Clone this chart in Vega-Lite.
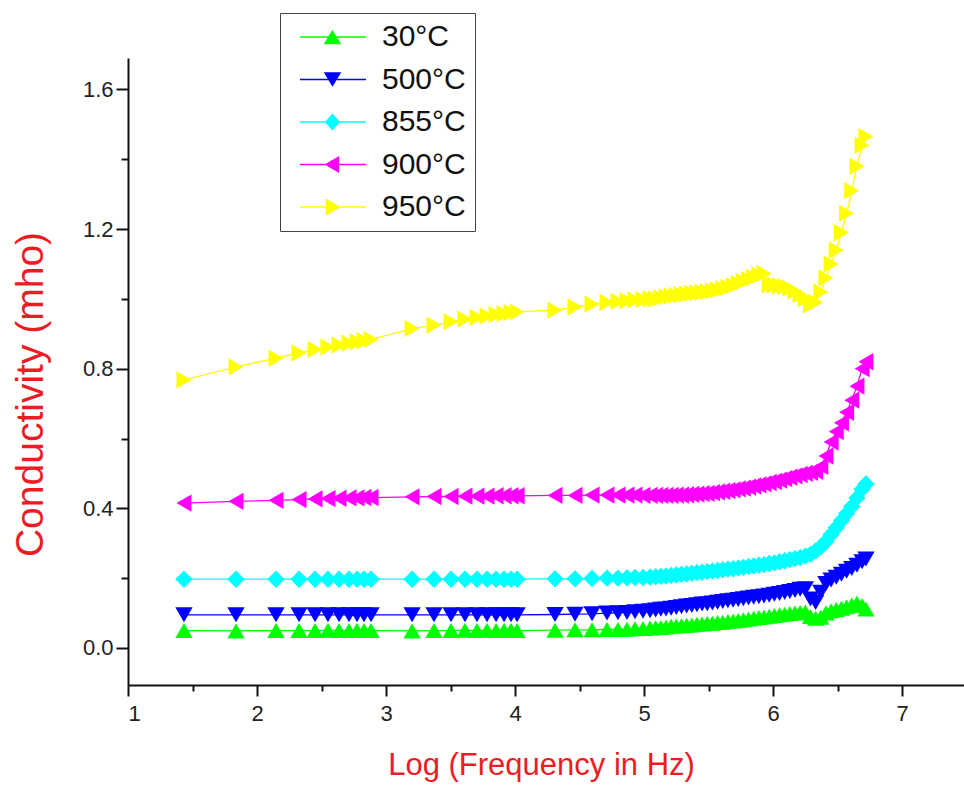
{
  "$schema": "https://vega.github.io/schema/vega-lite/v6.json",
  "width": 836,
  "height": 627,
  "autosize": {"type": "none"},
  "padding": {"left": 128, "top": 58, "right": 0, "bottom": 100},
  "background": "white",
  "config": {"view": {"stroke": null}},
  "data": {"values": [
    {"s":"500°C","x":1.434,"y":0.095},{"s":"500°C","x":1.837,"y":0.095},{"s":"500°C","x":2.147,"y":0.095},{"s":"500°C","x":2.326,"y":0.095},{"s":"500°C","x":2.45,"y":0.095},{"s":"500°C","x":2.55,"y":0.095},{"s":"500°C","x":2.636,"y":0.095},{"s":"500°C","x":2.713,"y":0.095},{"s":"500°C","x":2.775,"y":0.095},{"s":"500°C","x":2.829,"y":0.095},{"s":"500°C","x":2.884,"y":0.095},{"s":"500°C","x":3.202,"y":0.095},{"s":"500°C","x":3.372,"y":0.095},{"s":"500°C","x":3.504,"y":0.095},{"s":"500°C","x":3.612,"y":0.095},{"s":"500°C","x":3.705,"y":0.095},{"s":"500°C","x":3.783,"y":0.095},{"s":"500°C","x":3.853,"y":0.095},{"s":"500°C","x":3.915,"y":0.095},{"s":"500°C","x":3.969,"y":0.095},{"s":"500°C","x":4.016,"y":0.095},{"s":"500°C","x":4.31,"y":0.096},{"s":"500°C","x":4.465,"y":0.097},{"s":"500°C","x":4.597,"y":0.098},{"s":"500°C","x":4.713,"y":0.1},{"s":"500°C","x":4.798,"y":0.101},{"s":"500°C","x":4.868,"y":0.102},{"s":"500°C","x":4.93,"y":0.104},{"s":"500°C","x":4.992,"y":0.105},{"s":"500°C","x":5.047,"y":0.107},
    {"s":"500°C","x":5.09,"y":0.109},{"s":"500°C","x":5.13,"y":0.111},{"s":"500°C","x":5.17,"y":0.112},{"s":"500°C","x":5.21,"y":0.114},{"s":"500°C","x":5.25,"y":0.116},{"s":"500°C","x":5.29,"y":0.118},{"s":"500°C","x":5.33,"y":0.12},{"s":"500°C","x":5.37,"y":0.122},{"s":"500°C","x":5.41,"y":0.124},{"s":"500°C","x":5.45,"y":0.126},{"s":"500°C","x":5.49,"y":0.127},{"s":"500°C","x":5.53,"y":0.129},{"s":"500°C","x":5.57,"y":0.131},{"s":"500°C","x":5.61,"y":0.133},{"s":"500°C","x":5.65,"y":0.135},{"s":"500°C","x":5.69,"y":0.137},{"s":"500°C","x":5.73,"y":0.139},{"s":"500°C","x":5.77,"y":0.141},{"s":"500°C","x":5.81,"y":0.143},{"s":"500°C","x":5.85,"y":0.145},{"s":"500°C","x":5.89,"y":0.147},{"s":"500°C","x":5.93,"y":0.149},{"s":"500°C","x":5.97,"y":0.151},{"s":"500°C","x":6.01,"y":0.154},{"s":"500°C","x":6.05,"y":0.156},{"s":"500°C","x":6.09,"y":0.159},{"s":"500°C","x":6.13,"y":0.162},{"s":"500°C","x":6.17,"y":0.165},{"s":"500°C","x":6.21,"y":0.168},{"s":"500°C","x":6.25,"y":0.17},{"s":"500°C","x":6.29,"y":0.14},{"s":"500°C","x":6.33,"y":0.13},{"s":"500°C","x":6.37,"y":0.16},{"s":"500°C","x":6.41,"y":0.185},{"s":"500°C","x":6.45,"y":0.195},{"s":"500°C","x":6.49,"y":0.203},{"s":"500°C","x":6.53,"y":0.211},{"s":"500°C","x":6.57,"y":0.22},{"s":"500°C","x":6.61,"y":0.228},{"s":"500°C","x":6.65,"y":0.237},{"s":"500°C","x":6.69,"y":0.247},{"s":"500°C","x":6.72,"y":0.255},

    {"s":"855°C","x":1.434,"y":0.197},{"s":"855°C","x":1.837,"y":0.197},{"s":"855°C","x":2.147,"y":0.197},{"s":"855°C","x":2.326,"y":0.197},{"s":"855°C","x":2.45,"y":0.197},{"s":"855°C","x":2.55,"y":0.197},{"s":"855°C","x":2.636,"y":0.197},{"s":"855°C","x":2.713,"y":0.197},{"s":"855°C","x":2.775,"y":0.197},{"s":"855°C","x":2.829,"y":0.197},{"s":"855°C","x":2.884,"y":0.197},{"s":"855°C","x":3.202,"y":0.197},{"s":"855°C","x":3.372,"y":0.197},{"s":"855°C","x":3.504,"y":0.197},{"s":"855°C","x":3.612,"y":0.197},{"s":"855°C","x":3.705,"y":0.197},{"s":"855°C","x":3.783,"y":0.197},{"s":"855°C","x":3.853,"y":0.197},{"s":"855°C","x":3.915,"y":0.197},{"s":"855°C","x":3.969,"y":0.197},{"s":"855°C","x":4.016,"y":0.197},{"s":"855°C","x":4.31,"y":0.198},{"s":"855°C","x":4.465,"y":0.198},{"s":"855°C","x":4.597,"y":0.199},{"s":"855°C","x":4.713,"y":0.2},{"s":"855°C","x":4.798,"y":0.2},{"s":"855°C","x":4.868,"y":0.201},{"s":"855°C","x":4.93,"y":0.202},{"s":"855°C","x":4.992,"y":0.202},{"s":"855°C","x":5.047,"y":0.203},
    {"s":"855°C","x":5.09,"y":0.204},{"s":"855°C","x":5.13,"y":0.205},{"s":"855°C","x":5.17,"y":0.206},{"s":"855°C","x":5.21,"y":0.208},{"s":"855°C","x":5.25,"y":0.209},{"s":"855°C","x":5.29,"y":0.211},{"s":"855°C","x":5.33,"y":0.212},{"s":"855°C","x":5.37,"y":0.214},{"s":"855°C","x":5.41,"y":0.216},{"s":"855°C","x":5.45,"y":0.217},{"s":"855°C","x":5.49,"y":0.219},{"s":"855°C","x":5.53,"y":0.22},{"s":"855°C","x":5.57,"y":0.222},{"s":"855°C","x":5.61,"y":0.224},{"s":"855°C","x":5.65,"y":0.226},{"s":"855°C","x":5.69,"y":0.227},{"s":"855°C","x":5.73,"y":0.229},{"s":"855°C","x":5.77,"y":0.231},{"s":"855°C","x":5.81,"y":0.233},{"s":"855°C","x":5.85,"y":0.235},{"s":"855°C","x":5.89,"y":0.237},{"s":"855°C","x":5.93,"y":0.239},{"s":"855°C","x":5.97,"y":0.242},{"s":"855°C","x":6.01,"y":0.244},{"s":"855°C","x":6.05,"y":0.247},{"s":"855°C","x":6.09,"y":0.25},{"s":"855°C","x":6.13,"y":0.253},{"s":"855°C","x":6.17,"y":0.256},{"s":"855°C","x":6.21,"y":0.259},{"s":"855°C","x":6.25,"y":0.263},{"s":"855°C","x":6.29,"y":0.268},{"s":"855°C","x":6.33,"y":0.278},{"s":"855°C","x":6.37,"y":0.29},{"s":"855°C","x":6.41,"y":0.305},{"s":"855°C","x":6.45,"y":0.325},{"s":"855°C","x":6.49,"y":0.345},{"s":"855°C","x":6.53,"y":0.365},{"s":"855°C","x":6.57,"y":0.385},{"s":"855°C","x":6.61,"y":0.405},{"s":"855°C","x":6.65,"y":0.43},{"s":"855°C","x":6.69,"y":0.455},{"s":"855°C","x":6.72,"y":0.47},

    {"s":"900°C","x":1.434,"y":0.415},{"s":"900°C","x":1.837,"y":0.42},{"s":"900°C","x":2.147,"y":0.423},{"s":"900°C","x":2.326,"y":0.425},{"s":"900°C","x":2.45,"y":0.427},{"s":"900°C","x":2.55,"y":0.428},{"s":"900°C","x":2.636,"y":0.429},{"s":"900°C","x":2.713,"y":0.43},{"s":"900°C","x":2.775,"y":0.43},{"s":"900°C","x":2.829,"y":0.431},{"s":"900°C","x":2.884,"y":0.431},{"s":"900°C","x":3.202,"y":0.433},{"s":"900°C","x":3.372,"y":0.434},{"s":"900°C","x":3.504,"y":0.434},{"s":"900°C","x":3.612,"y":0.435},{"s":"900°C","x":3.705,"y":0.435},{"s":"900°C","x":3.783,"y":0.435},{"s":"900°C","x":3.853,"y":0.436},{"s":"900°C","x":3.915,"y":0.436},{"s":"900°C","x":3.969,"y":0.436},{"s":"900°C","x":4.016,"y":0.436},{"s":"900°C","x":4.31,"y":0.437},{"s":"900°C","x":4.465,"y":0.437},{"s":"900°C","x":4.597,"y":0.438},{"s":"900°C","x":4.713,"y":0.438},{"s":"900°C","x":4.798,"y":0.438},{"s":"900°C","x":4.868,"y":0.438},{"s":"900°C","x":4.93,"y":0.438},{"s":"900°C","x":4.992,"y":0.437},{"s":"900°C","x":5.047,"y":0.437},
    {"s":"900°C","x":5.09,"y":0.437},{"s":"900°C","x":5.13,"y":0.437},{"s":"900°C","x":5.17,"y":0.437},{"s":"900°C","x":5.21,"y":0.437},{"s":"900°C","x":5.25,"y":0.438},{"s":"900°C","x":5.29,"y":0.438},{"s":"900°C","x":5.33,"y":0.439},{"s":"900°C","x":5.37,"y":0.44},{"s":"900°C","x":5.41,"y":0.441},{"s":"900°C","x":5.45,"y":0.442},{"s":"900°C","x":5.49,"y":0.443},{"s":"900°C","x":5.53,"y":0.445},{"s":"900°C","x":5.57,"y":0.447},{"s":"900°C","x":5.61,"y":0.449},{"s":"900°C","x":5.65,"y":0.451},{"s":"900°C","x":5.69,"y":0.453},{"s":"900°C","x":5.73,"y":0.456},{"s":"900°C","x":5.77,"y":0.458},{"s":"900°C","x":5.81,"y":0.461},{"s":"900°C","x":5.85,"y":0.464},{"s":"900°C","x":5.89,"y":0.467},{"s":"900°C","x":5.93,"y":0.47},{"s":"900°C","x":5.97,"y":0.474},{"s":"900°C","x":6.01,"y":0.477},{"s":"900°C","x":6.05,"y":0.481},{"s":"900°C","x":6.09,"y":0.485},{"s":"900°C","x":6.13,"y":0.489},{"s":"900°C","x":6.17,"y":0.493},{"s":"900°C","x":6.21,"y":0.497},{"s":"900°C","x":6.25,"y":0.5},{"s":"900°C","x":6.29,"y":0.503},{"s":"900°C","x":6.33,"y":0.506},{"s":"900°C","x":6.37,"y":0.52},{"s":"900°C","x":6.41,"y":0.55},{"s":"900°C","x":6.45,"y":0.59},{"s":"900°C","x":6.49,"y":0.62},{"s":"900°C","x":6.53,"y":0.645},{"s":"900°C","x":6.57,"y":0.675},{"s":"900°C","x":6.61,"y":0.71},{"s":"900°C","x":6.65,"y":0.75},{"s":"900°C","x":6.69,"y":0.8},{"s":"900°C","x":6.72,"y":0.82},

    {"s":"950°C","x":1.434,"y":0.768},{"s":"950°C","x":1.837,"y":0.805},{"s":"950°C","x":2.147,"y":0.83},{"s":"950°C","x":2.326,"y":0.845},{"s":"950°C","x":2.45,"y":0.855},{"s":"950°C","x":2.55,"y":0.862},{"s":"950°C","x":2.636,"y":0.868},{"s":"950°C","x":2.713,"y":0.873},{"s":"950°C","x":2.775,"y":0.877},{"s":"950°C","x":2.829,"y":0.88},{"s":"950°C","x":2.884,"y":0.884},{"s":"950°C","x":3.202,"y":0.915},{"s":"950°C","x":3.372,"y":0.925},{"s":"950°C","x":3.504,"y":0.935},{"s":"950°C","x":3.612,"y":0.942},{"s":"950°C","x":3.705,"y":0.947},{"s":"950°C","x":3.783,"y":0.951},{"s":"950°C","x":3.853,"y":0.955},{"s":"950°C","x":3.915,"y":0.958},{"s":"950°C","x":3.969,"y":0.961},{"s":"950°C","x":4.016,"y":0.963},{"s":"950°C","x":4.31,"y":0.968},{"s":"950°C","x":4.465,"y":0.977},{"s":"950°C","x":4.597,"y":0.985},{"s":"950°C","x":4.713,"y":0.99},{"s":"950°C","x":4.798,"y":0.993},{"s":"950°C","x":4.868,"y":0.995},{"s":"950°C","x":4.93,"y":0.997},{"s":"950°C","x":4.992,"y":0.998},{"s":"950°C","x":5.047,"y":1.0},
    {"s":"950°C","x":5.09,"y":1.0},{"s":"950°C","x":5.13,"y":1.003},{"s":"950°C","x":5.17,"y":1.006},{"s":"950°C","x":5.21,"y":1.008},{"s":"950°C","x":5.25,"y":1.01},{"s":"950°C","x":5.29,"y":1.012},{"s":"950°C","x":5.33,"y":1.014},{"s":"950°C","x":5.37,"y":1.016},{"s":"950°C","x":5.41,"y":1.017},{"s":"950°C","x":5.45,"y":1.019},{"s":"950°C","x":5.49,"y":1.021},{"s":"950°C","x":5.53,"y":1.023},{"s":"950°C","x":5.57,"y":1.026},{"s":"950°C","x":5.61,"y":1.029},{"s":"950°C","x":5.65,"y":1.033},{"s":"950°C","x":5.69,"y":1.038},{"s":"950°C","x":5.73,"y":1.044},{"s":"950°C","x":5.77,"y":1.05},{"s":"950°C","x":5.81,"y":1.056},{"s":"950°C","x":5.85,"y":1.062},{"s":"950°C","x":5.89,"y":1.068},{"s":"950°C","x":5.93,"y":1.073},{"s":"950°C","x":5.97,"y":1.04},{"s":"950°C","x":6.01,"y":1.04},{"s":"950°C","x":6.05,"y":1.037},{"s":"950°C","x":6.09,"y":1.035},{"s":"950°C","x":6.13,"y":1.03},{"s":"950°C","x":6.17,"y":1.022},{"s":"950°C","x":6.21,"y":1.012},{"s":"950°C","x":6.25,"y":1.0},{"s":"950°C","x":6.29,"y":0.983},{"s":"950°C","x":6.33,"y":0.99},{"s":"950°C","x":6.37,"y":1.02},{"s":"950°C","x":6.41,"y":1.06},{"s":"950°C","x":6.45,"y":1.1},{"s":"950°C","x":6.49,"y":1.14},{"s":"950°C","x":6.53,"y":1.19},{"s":"950°C","x":6.57,"y":1.245},{"s":"950°C","x":6.61,"y":1.31},{"s":"950°C","x":6.65,"y":1.38},{"s":"950°C","x":6.69,"y":1.44},{"s":"950°C","x":6.72,"y":1.465},

    {"s":"30°C","x":1.434,"y":0.05},{"s":"30°C","x":1.837,"y":0.049},{"s":"30°C","x":2.147,"y":0.05},{"s":"30°C","x":2.326,"y":0.05},{"s":"30°C","x":2.45,"y":0.05},{"s":"30°C","x":2.55,"y":0.051},{"s":"30°C","x":2.636,"y":0.05},{"s":"30°C","x":2.713,"y":0.05},{"s":"30°C","x":2.775,"y":0.051},{"s":"30°C","x":2.829,"y":0.05},{"s":"30°C","x":2.884,"y":0.05},{"s":"30°C","x":3.202,"y":0.049},{"s":"30°C","x":3.372,"y":0.05},{"s":"30°C","x":3.504,"y":0.05},{"s":"30°C","x":3.612,"y":0.051},{"s":"30°C","x":3.705,"y":0.05},{"s":"30°C","x":3.783,"y":0.051},{"s":"30°C","x":3.853,"y":0.05},{"s":"30°C","x":3.915,"y":0.051},{"s":"30°C","x":3.969,"y":0.051},{"s":"30°C","x":4.016,"y":0.05},{"s":"30°C","x":4.31,"y":0.051},{"s":"30°C","x":4.465,"y":0.052},{"s":"30°C","x":4.597,"y":0.052},{"s":"30°C","x":4.713,"y":0.053},{"s":"30°C","x":4.798,"y":0.053},{"s":"30°C","x":4.868,"y":0.054},{"s":"30°C","x":4.93,"y":0.055},{"s":"30°C","x":4.992,"y":0.056},{"s":"30°C","x":5.047,"y":0.057},
    {"s":"30°C","x":5.09,"y":0.058},{"s":"30°C","x":5.13,"y":0.059},{"s":"30°C","x":5.17,"y":0.06},{"s":"30°C","x":5.21,"y":0.062},{"s":"30°C","x":5.25,"y":0.063},{"s":"30°C","x":5.29,"y":0.064},{"s":"30°C","x":5.33,"y":0.065},{"s":"30°C","x":5.37,"y":0.066},{"s":"30°C","x":5.41,"y":0.068},{"s":"30°C","x":5.45,"y":0.069},{"s":"30°C","x":5.49,"y":0.07},{"s":"30°C","x":5.53,"y":0.071},{"s":"30°C","x":5.57,"y":0.073},{"s":"30°C","x":5.61,"y":0.074},{"s":"30°C","x":5.65,"y":0.076},{"s":"30°C","x":5.69,"y":0.077},{"s":"30°C","x":5.73,"y":0.079},{"s":"30°C","x":5.77,"y":0.081},{"s":"30°C","x":5.81,"y":0.083},{"s":"30°C","x":5.85,"y":0.085},{"s":"30°C","x":5.89,"y":0.087},{"s":"30°C","x":5.93,"y":0.089},{"s":"30°C","x":5.97,"y":0.091},{"s":"30°C","x":6.01,"y":0.093},{"s":"30°C","x":6.05,"y":0.095},{"s":"30°C","x":6.09,"y":0.097},{"s":"30°C","x":6.13,"y":0.099},{"s":"30°C","x":6.17,"y":0.1},{"s":"30°C","x":6.21,"y":0.102},{"s":"30°C","x":6.25,"y":0.103},{"s":"30°C","x":6.29,"y":0.09},{"s":"30°C","x":6.33,"y":0.085},{"s":"30°C","x":6.37,"y":0.088},{"s":"30°C","x":6.41,"y":0.1},{"s":"30°C","x":6.45,"y":0.107},{"s":"30°C","x":6.49,"y":0.11},{"s":"30°C","x":6.53,"y":0.114},{"s":"30°C","x":6.57,"y":0.118},{"s":"30°C","x":6.61,"y":0.123},{"s":"30°C","x":6.65,"y":0.128},{"s":"30°C","x":6.69,"y":0.122},{"s":"30°C","x":6.72,"y":0.112}
  ]},
  "layer": [
    {
      "mark": {"type": "line", "strokeWidth": 1.3, "clip": false},
      "encoding": {
        "x": {"field": "x", "type": "quantitative",
          "scale": {"domain": [1, 7.48], "nice": false, "zero": false},
          "axis": {"orient": "bottom", "values": [1, 2, 3, 4, 5, 6, 7], "format": "d", "grid": false,
            "tickSize": 11, "tickWidth": 2, "tickColor": "#111", "domainWidth": 2, "domainColor": "#111",
            "labelFont": "Liberation Sans Narrow, Liberation Sans, Arial", "labelFontSize": 22, "labelColor": "#222", "labelPadding": 7,
            "title": "Log (Frequency in Hz)", "titleFont": "Liberation Sans, Arial", "titleFontSize": 31, "titleFontWeight": "normal",
            "titleColor": "#ed1c24", "titleX": 413, "titleY": 80, "titleBaseline": "middle", "titleAlign": "center"}},
        "y": {"field": "y", "type": "quantitative",
          "scale": {"domain": [-0.106, 1.69], "nice": false, "zero": false},
          "axis": {"orient": "left", "values": [0, 0.4, 0.8, 1.2, 1.6], "format": ".1f", "grid": false,
            "tickSize": 12, "tickWidth": 2, "tickColor": "#111", "domainWidth": 2, "domainColor": "#111",
            "labelFont": "Liberation Sans, Arial", "labelFontSize": 22, "labelColor": "#222", "labelPadding": 3,
            "title": "Conductivity (mho)", "titleFont": "Liberation Sans, Arial", "titleFontSize": 39, "titleFontWeight": "normal",
            "titleColor": "#ed1c24", "titleX": -98, "titleY": 336, "titleAngle": 270, "titleBaseline": "middle", "titleAlign": "center"}},
        "color": {"field": "s", "type": "nominal",
          "scale": {"domain": ["30°C", "500°C", "855°C", "900°C", "950°C"], "range": ["#00ff00", "#0000ff", "#00ffff", "#ff00ff", "#ffff00"]},
          "legend": null}
      }
    },
    {
      "mark": {"type": "point", "filled": true, "size": 300, "opacity": 1, "strokeWidth": 0, "clip": false},
      "encoding": {
        "x": {"field": "x", "type": "quantitative",
          "axis": {"orient": "bottom", "values": [1.5, 2.5, 3.5, 4.5, 5.5, 6.5], "labels": false, "domain": false, "grid": false,
            "tickSize": 6, "tickWidth": 2, "tickColor": "#111", "title": null}},
        "y": {"field": "y", "type": "quantitative",
          "axis": {"orient": "left", "values": [0.2, 0.6, 1.0, 1.4], "labels": false, "domain": false, "grid": false,
            "tickSize": 7, "tickWidth": 2, "tickColor": "#111", "title": null}},
        "color": {"field": "s", "type": "nominal",
          "scale": {"domain": ["30°C", "500°C", "855°C", "900°C", "950°C"], "range": ["#00ff00", "#0000ff", "#00ffff", "#ff00ff", "#ffff00"]},
          "legend": null},
        "shape": {"field": "s", "type": "nominal",
          "scale": {"domain": ["30°C", "500°C", "855°C", "900°C", "950°C"], "range": ["triangle-up", "triangle-down", "diamond", "triangle-left", "triangle-right"]},
          "legend": null}
      }
    },
    {
      "mark": {"type": "point", "filled": true, "size": 20, "opacity": 0, "strokeWidth": 0, "clip": false},
      "encoding": {
        "x": {"field": "x", "type": "quantitative", "axis": null},
        "y": {"field": "y", "type": "quantitative", "axis": null},
        "color": {"field": "s", "type": "nominal",
          "scale": {"domain": ["30°C", "500°C", "855°C", "900°C", "950°C"], "range": ["#00ff00", "#0000ff", "#00ffff", "#ff00ff", "#ffff00"]},
          "legend": {"title": null, "orient": "none", "legendX": 152, "legendY": -45,
            "symbolSize": 256, "symbolOpacity": 1, "symbolStrokeWidth": 0, "labelOffset": 63,
            "labelFont": "Liberation Sans, Arial", "labelFontSize": 30, "labelColor": "#111",
            "rowPadding": 12.5, "padding": 9, "strokeColor": "#444"}},
        "shape": {"field": "s", "type": "nominal",
          "scale": {"domain": ["30°C", "500°C", "855°C", "900°C", "950°C"],
            "range": [
              "M-0.5,-0.09H7.75V0.09H-0.5ZM3.56,-0.9L4.66,0.9L2.46,0.9Z",
              "M-0.5,-0.09H7.75V0.09H-0.5ZM3.56,0.9L2.46,-0.9L4.66,-0.9Z",
              "M-0.5,-0.09H7.75V0.09H-0.5ZM3.56,-1.05L4.5,0L3.56,1.05L2.62,0Z",
              "M-0.5,-0.09H7.75V0.09H-0.5ZM2.56,0L4.4,-1.05L4.4,1.05Z",
              "M-0.5,-0.09H7.75V0.09H-0.5ZM4.56,0L2.72,1.05L2.72,-1.05Z"]},
          "legend": {"title": null, "orient": "none", "legendX": 152, "legendY": -45,
            "symbolSize": 256, "symbolOpacity": 1, "symbolStrokeWidth": 0, "labelOffset": 63,
            "labelFont": "Liberation Sans, Arial", "labelFontSize": 30, "labelColor": "#111",
            "rowPadding": 12.5, "padding": 9, "strokeColor": "#444"}}
      }
    }
  ],
  "resolve": {"scale": {"color": "independent", "shape": "independent"}, "axis": {"x": "independent", "y": "independent"}}
}
